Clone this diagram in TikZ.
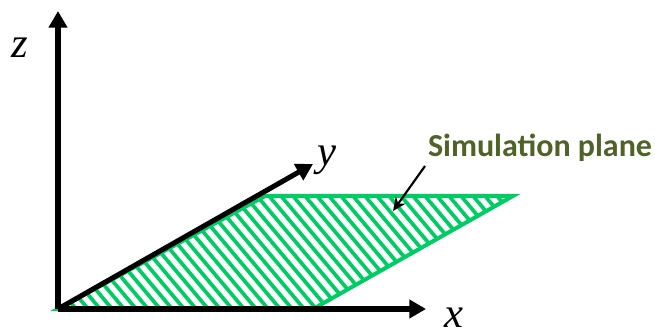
\documentclass[tikz,border=0pt]{standalone}
\usepackage{fontspec}
\setmainfont{Liberation Serif}
\newfontfamily\calloutfont{Carlito}
\usetikzlibrary{arrows.meta}
\definecolor{planegreen}{RGB}{0,204,102}
\definecolor{labelolive}{RGB}{79,98,40}
\begin{document}
\begin{tikzpicture}[
				x=0.75pt, y=-0.75pt,
				axis/.style={line width=3.8pt, -{Triangle[width=13.5pt, length=12.5pt]}},
				axislabel/.style={font=\fontsize{32}{34}\selectfont\itshape, inner sep=0pt},
				hatch/.style={planegreen, line width=2.8pt},
				rim/.style={planegreen, line width=3pt, line join=miter},
				pointer/.style={line width=1.6pt, -{Stealth[width=9pt, length=10pt]}}
			]
			\useasboundingbox (0,0) rectangle (655,334);
			\coordinate (O) at (58,309);
			\coordinate (X) at (426,309);
			\coordinate (Y) at (313,164);
			\coordinate (Z) at (58,11);
			\coordinate (pa) at (265,196);
			\coordinate (pb) at (513,196);
			\coordinate (pc) at (313,309);
			\begin{scope}
				\clip (O) -- (pa) -- (pb) -- (pc) -- cycle;
				\foreach \s in {-108,-96,...,520}
					\draw[hatch] (\s,190) -- ++(101,120);
			\end{scope}
			\draw[rim] (O) -- (pa) -- (pb) -- (pc) -- cycle;
			\draw[axis] (O) -- (X);
			\draw[axis] (O) -- (Y);
			\draw[axis] (O) -- (Z);
			\node[axislabel] (xl) at (454,318) {x};
			\node[axislabel] (yl) at (327,160) {y};
			\node[axislabel] (zl) at (20,48) {z};
			\node[font=\calloutfont\bfseries\fontsize{24}{28}\selectfont, text=labelolive, inner sep=0pt] (sim) at (540,148) {Simulation plane};
			\coordinate (tail) at (425,166);
			\coordinate (head) at (393,211);
			\draw[pointer] (tail) -- (head);
		\end{tikzpicture}
\end{document}
